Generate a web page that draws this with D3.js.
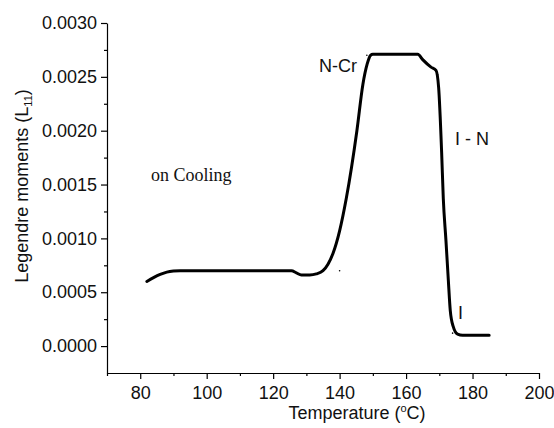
<!DOCTYPE html>
<html>
<head>
<meta charset="utf-8">
<script src="https://cdn.jsdelivr.net/npm/d3@7"></script>
<style>
  body { margin: 0; background: #fff; }
  text { font-family: "Liberation Sans", Arial, sans-serif; }
</style>
</head>
<body>
<div id="chart"></div>
<script>
// curve (temperature in C, L11 value)
let temps = [82, 84, 86, 88, 90, 92, 125.5, 127, 128.5, 131, 133, 135, 136.5, 138, 140, 142,
  145.2, 147, 148.3, 149.3, 150, 163.5, 165, 167.5, 169, 169.8, 170.7, 171.2, 172,
  172.7, 173.3, 174.2, 175.5, 177, 185];
let moments = [0.00060, 0.000635, 0.000665, 0.000687, 0.000697, 0.00070, 0.00070, 0.00068,
  0.00066, 0.00066, 0.00067, 0.00070, 0.00076, 0.00086, 0.00107, 0.00137, 0.00200, 0.00243,
  0.00262, 0.00270, 0.00271, 0.00271, 0.00266, 0.00259, 0.00256, 0.00240, 0.00180,
  0.00137, 0.00098, 0.00062, 0.00033, 0.00018, 0.00011, 0.00010, 0.00010];

// stray specks in the original figure
let speckT = [140, 148.2, 169.5, 174];
let speckV = [0.00070, 0.00270, 0.00252, 0.00012];

let xTicks = [80, 100, 120, 140, 160, 180, 200];
let xMinor = [70, 90, 110, 130, 150, 170, 190];
let yTicks = [0.0000, 0.0005, 0.0010, 0.0015, 0.0020, 0.0025, 0.0030];
let yMinor = [0.00025, 0.00075, 0.00125, 0.00175, 0.00225, 0.00275];

let width = 554, height = 428;

let svg = d3.select("#chart")
  .append("svg")
  .attr("width", width)
  .attr("height", height);

let x = d3.scaleLinear().domain([70, 200]).range([107, 539]);
let y = d3.scaleLinear().domain([-0.00025, 0.0030]).range([373, 23]);

// minor ticks
svg.append("g")
  .attr("transform", "translate(0,373)")
  .call(d3.axisBottom(x).tickValues(xMinor).tickSize(3).tickSizeOuter(0).tickFormat(""))
  .call(g => g.select(".domain").remove());
svg.append("g")
  .attr("transform", "translate(107,0)")
  .call(d3.axisLeft(y).tickValues(yMinor).tickSize(3).tickSizeOuter(0).tickFormat(""))
  .call(g => g.select(".domain").remove());

// main axes
svg.append("g")
  .attr("transform", "translate(0,373)")
  .call(d3.axisBottom(x).tickValues(xTicks).tickSize(6).tickSizeOuter(0).tickPadding(7));
svg.append("g")
  .attr("transform", "translate(107,0)")
  .call(d3.axisLeft(y).tickValues(yTicks).tickSize(6).tickSizeOuter(0).tickPadding(4)
    .tickFormat(d3.format(".4f")));

svg.selectAll(".tick text")
  .attr("fill", "#111")
  .style("font-size", "18px")
  .style("font-family", "Liberation Sans, Arial, sans-serif");
svg.selectAll(".tick line, .domain")
  .attr("stroke", "#000")
  .attr("stroke-width", 1.2);

// the curve
let pts = temps.map((t, i) => [t, moments[i]]);
let line = d3.line()
  .x(d => x(d[0]))
  .y(d => y(d[1]))
  .curve(d3.curveMonotoneX);

svg.append("path")
  .datum(pts)
  .attr("d", line)
  .attr("fill", "none")
  .attr("stroke", "#000")
  .attr("stroke-width", 3)
  .attr("stroke-linejoin", "round")
  .attr("stroke-linecap", "round");

svg.selectAll(".speck")
  .data(speckT)
  .enter()
  .append("circle")
  .attr("cx", d => x(d))
  .attr("cy", (d, i) => y(speckV[i]))
  .attr("r", 0.8)
  .attr("fill", "#000");

// axis titles
let yTitle = svg.append("text")
  .attr("transform", "translate(28,186) rotate(-90)")
  .attr("text-anchor", "middle")
  .attr("fill", "#111")
  .style("font-size", "18px");
yTitle.append("tspan").text("Legendre moments (L");
yTitle.append("tspan").attr("dy", 4).style("font-size", "11px").text("11");
yTitle.append("tspan").attr("dy", -4).text(")");

let xTitle = svg.append("text")
  .attr("x", 357)
  .attr("y", 419)
  .attr("text-anchor", "middle")
  .attr("fill", "#111")
  .style("font-size", "18px");
xTitle.append("tspan").text("Temperature (");
xTitle.append("tspan").attr("dy", -7).style("font-size", "11px").text("o");
xTitle.append("tspan").attr("dy", 7).text("C)");

// annotations
svg.append("text").attr("x", 319).attr("y", 72).attr("fill", "#111").style("font-size", "18px").text("N-Cr");
svg.append("text").attr("x", 455).attr("y", 145).attr("fill", "#111").style("font-size", "18px").text("I - N");
svg.append("text").attr("x", 458).attr("y", 319).attr("fill", "#111").style("font-size", "18px").text("I");
svg.append("text")
  .attr("x", 151)
  .attr("y", 181)
  .attr("fill", "#111")
  .style("font-family", "Liberation Serif, Times New Roman, serif")
  .style("font-size", "18px")
  .text("on Cooling");
</script>
</body>
</html>
